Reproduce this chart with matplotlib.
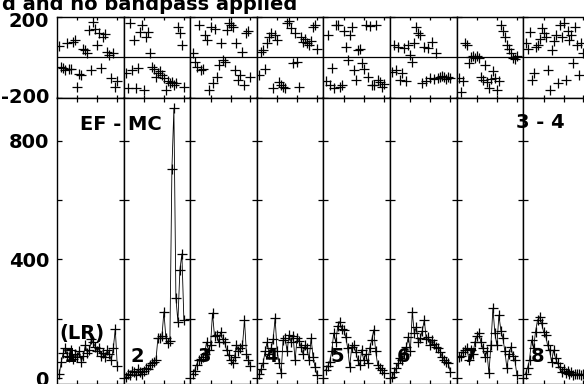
import matplotlib
matplotlib.use('Agg')
import matplotlib.pyplot as plt

plt.rcParams['font.family'] = ['DejaVu Sans']
plt.rcParams['font.weight'] = 'bold'

# ---------------- data ----------------
channels = list(range(1, 31))
if_labels = ['1', '2', '3', '4', '5', '6', '7', '8']

amp_if1 = [15, 55, 85, 100, 75, 70, 95, 65, 80, 70, 90, 55, 75, 110, 85,
           95, 130, 120, 105, 90, 100, 75, 85, 70, 95, 80, 60, 100, 165, 40]
amp_if2 = [5, 15, 10, 25, 20, 10, 30, 20, 15, 25, 35, 30, 45, 50, 55,
           60, 134, 134, 140, 223, 134, 118, 125, 703, 908, 270, 190, 364, 418, 195]
amp_if3 = [13, 25, 45, 61, 65, 71, 80, 121, 95, 110, 219, 140, 145, 120, 155,
           130, 121, 95, 77, 60, 50, 70, 111, 90, 101, 110, 195, 80, 61, 40]
amp_if4 = [13, 30, 50, 90, 121, 80, 100, 130, 202, 90, 50, 17, 128, 135, 90,
           145, 120, 140, 60, 135, 125, 104, 80, 110, 100, 60, 134, 70, 37, 10]
amp_if5 = [27, 40, 55, 90, 151, 120, 175, 190, 165, 162, 139, 100, 38, 105, 110,
           89, 60, 44, 95, 60, 80, 50, 100, 128, 162, 90, 44, 35, 27, 16]
amp_if6 = [4, 20, 33, 50, 67, 60, 80, 105, 139, 90, 223, 150, 173, 120, 135,
           160, 195, 130, 139, 110, 128, 115, 105, 100, 89, 70, 61, 55, 49, 21]
amp_if7 = [70, 75, 89, 95, 100, 61, 95, 80, 122, 140, 151, 120, 100, 72, 90,
           16, 111, 235, 150, 110, 212, 160, 134, 90, 33, 80, 105, 75, 61, 10]
amp_if8 = [15, 35, 61, 128, 100, 156, 195, 206, 185, 156, 145, 111, 94, 55, 94,
           66, 49, 38, 21, 30, 18, 25, 12, 20, 10, 15, 12, 14, 10, 12]

phase_if1 = [55, -48, -55, -64, 68, -60, -58, 75, 84, -147, -85, -89, 40, 35, 18,
             134, -64, 175, 140, 60, 120, -55, 100, 115, 26, 10, -105, 20, -147, -120]
phase_if2 = [-81, -155, 167, -64, 84, -155, -56, 125, 158, -163, 100, 125, 18, -48, -60,
             -97, -80, -70, -90, -105, -163, -120, -130, -125, -140, -130, 150, 117, 60, -150]
phase_if3 = [18, -23, -48, 158, -64, -60, 109, 84, -163, 150, -130, 140, -97, -40, 68,
             -15, -23, 134, 167, 160, 150, -64, 68, -114, -90, 26, -139, 117, 130, -100]
phase_if4 = [-89, 26, 35, -60, 68, 100, 117, -155, 110, 84, -122, -140, -150, -155, 167,
             178, 142, -31, 117, -23, -147, 100, 76, 90, 68, 60, 80, 150, 158, 40]
phase_if5 = [-120, 109, -139, -56, -155, 158, 160, -150, -139, 130, 51, -15, 109, 150, -64,
             -114, 35, 40, -31, -60, 158, -100, 155, -140, -139, 158, -114, -125, -150, -135]
phase_if6 = [-73, 60, -64, 51, -114, -80, 45, -120, 60, 10, -23, 68, 150, 117, 110,
             -130, 51, -120, 45, -105, 76, -110, 18, -105, -100, -95, -100, -110, -98, -105]
phase_if7 = [-105, -172, -120, 68, 60, -30, 1, 5, -2, 3, -3, -97, -114, -40, -125,
             -155, -110, -70, -105, -163, -120, 158, 130, 100, 60, 40, 18, -6, -10, 5]
phase_if8 = [68, 40, 125, -114, -81, 51, 60, 90, 142, 120, 100, -64, -163, 35, 80,
             109, -130, 158, 100, 167, -114, 130, 84, 110, -31, 150, 60, -90, 70, 20]

amp_all = [amp_if1, amp_if2, amp_if3, amp_if4, amp_if5, amp_if6, amp_if7, amp_if8]
phase_all = [phase_if1, phase_if2, phase_if3, phase_if4,
             phase_if5, phase_if6, phase_if7, phase_if8]

amp_ticks = [0, 200, 400, 600, 800]
amp_tick_labels = ['0', '', '400', '', '800']
phase_ticks = [-200, 200]
phase_tick_labels = ['-200', '200']
chan_ticks = [10, 20, 30]

title_text = 'd and no bandpass applied'
baseline_label = 'EF - MC'
if_range_label = '3 - 4'
pol_label = '(LR)'

# ---------------- layout ----------------
W, H = 584, 384
fig = plt.figure(figsize=(W / 100, H / 100), dpi=100)

x0 = 57.0
pw = 66.6
phase_top = 16.7
split = 97.5
amp_bottom = 384.0
FS = 14


def fx(x):
    return x / W


def fy(y):
    return 1 - y / H


for i in range(8):
    left = fx(x0 + i * pw)
    axp = fig.add_axes([left, fy(split), pw / W, (split - phase_top) / H])
    axa = fig.add_axes([left, fy(amp_bottom), pw / W, (amp_bottom - split) / H])

    # phase panel
    axp.plot(channels, phase_all[i], linestyle='none', marker='+', ms=7.5,
             mew=0.9, color='black')
    axp.axhline(0, color='black', lw=0.9)
    axp.set_ylim(-200, 200)
    axp.set_xlim(-0.17, 33.16)

    # amplitude panel
    axa.plot(channels, amp_all[i], color='black', lw=0.6, marker='+', ms=7,
             mew=0.9)
    axa.set_ylim(-20.2, 945)
    axa.set_xlim(-0.17, 33.16)

    for ax in (axp, axa):
        for sp in ax.spines.values():
            sp.set_linewidth(1.0)
            sp.set_color('black')
        ax.set_xticks(chan_ticks)
        ax.set_xticklabels([])

    axp.tick_params(axis='x', direction='in', top=True, bottom=True, length=2.2, width=0.9)
    axa.tick_params(axis='x', direction='in', top=True, bottom=True, length=3.2, width=0.9)
    axa.tick_params(axis='y', direction='in', left=True, right=True, length=3.6,
                    width=0.9, pad=5.8, labelsize=FS)
    axp.tick_params(axis='y', direction='in', left=True, right=True, length=3.6,
                    width=0.9)

    axa.set_yticks(amp_ticks)
    axp.set_yticks(phase_ticks)
    axp.set_yticklabels([])
    if i == 0:
        axa.set_yticklabels(amp_tick_labels, fontweight='bold')
        # phase labels, the top one sits a little below its tick as in the reference
        for val, lab in zip(phase_ticks, phase_tick_labels):
            dy = -3.5 if val > 0 else 0
            axp.annotate(lab, xy=(0, val), xycoords=('axes fraction', 'data'),
                         xytext=(-5.8, dy), textcoords='offset points',
                         ha='right', va='center', fontsize=FS, fontweight='bold',
                         annotation_clip=False)
    else:
        axa.set_yticklabels([])

    fig.text(fx(x0 + i * pw + 14), fy(356), if_labels[i], ha='center',
             va='center', fontsize=FS, fontweight='bold', zorder=5)

fig.text(fx(297), fy(10.0), title_text, ha='right', va='baseline',
         fontsize=FS, fontweight='bold')
fig.text(fx(80), fy(124), baseline_label, ha='left', va='center',
         fontsize=FS, fontweight='bold', zorder=5)
fig.text(fx(565), fy(122.5), if_range_label, ha='right', va='center',
         fontsize=FS, fontweight='bold', zorder=5)
fig.text(fx(59), fy(333), pol_label, ha='left', va='center',
         fontsize=FS, fontweight='bold', zorder=5)

fig.savefig('out.png', dpi=100)
